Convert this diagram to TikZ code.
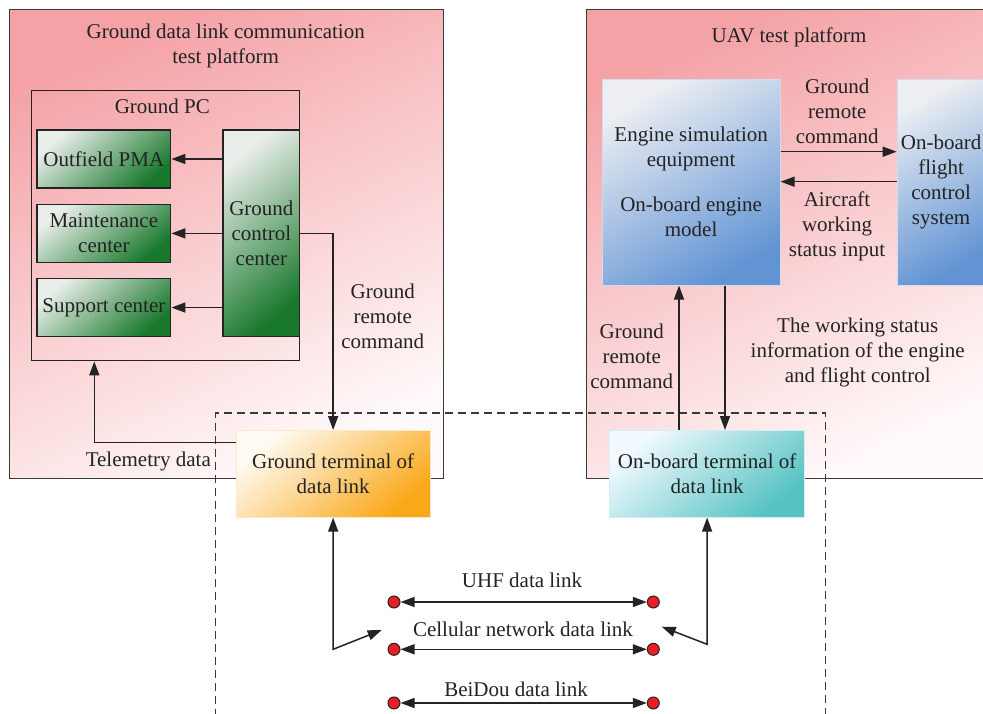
\documentclass[tikz,border=0pt]{standalone}
\usepackage{fontspec}
\setmainfont{Liberation Serif}
\usetikzlibrary{arrows.meta}
\definecolor{pinkT}{RGB}{244,162,166}
\definecolor{pinkB}{RGB}{255,250,250}
\definecolor{greenL}{RGB}{234,238,234}
\definecolor{greenD}{RGB}{24,120,44}
\definecolor{blueL}{RGB}{236,238,242}
\definecolor{blueD}{RGB}{98,148,212}
\definecolor{orangeL}{RGB}{255,251,244}
\definecolor{orangeD}{RGB}{250,168,26}
\definecolor{tealL}{RGB}{242,250,255}
\definecolor{tealD}{RGB}{86,194,194}
\definecolor{lineC}{RGB}{35,35,35}
\definecolor{dotR}{RGB}{232,30,36}
\begin{document}
\begin{tikzpicture}[x=1pt,y=-1pt,
  every node/.style={font=\fontsize{21}{25}\selectfont, text=lineC},
  txt/.style={align=center, inner sep=0pt},
  platform/.style={draw=lineC!90, line width=1.4pt, top color=pinkT, bottom color=pinkB, shading angle=25, inner sep=0pt, anchor=north west},
  plainbox/.style={draw=lineC, line width=1.4pt, inner sep=0pt, anchor=north west},
  gbox/.style={draw=lineC, line width=1.4pt, top color=greenL, bottom color=greenD, shading angle=40, align=center, inner sep=0pt, anchor=north west},
  bbox/.style={draw=blueL!80!blueD, line width=0.6pt, top color=blueL, bottom color=blueD, shading angle=30, align=center, inner sep=0pt, anchor=north west},
  obox/.style={draw=orangeL!80!orangeD, line width=0.6pt, top color=orangeL, bottom color=orangeD, shading angle=40, align=center, inner sep=0pt, anchor=north west},
  tbox/.style={draw=tealL!80!tealD, line width=0.6pt, top color=tealL, bottom color=tealD, shading angle=40, align=center, inner sep=0pt, anchor=north west},
  dbox/.style={draw=lineC!90, line width=1.3pt, dash pattern=on 8pt off 5pt, inner sep=0pt, anchor=north west},
  dot/.style={circle, draw=lineC, fill=dotR, minimum size=12pt, inner sep=0pt, line width=1pt},
  arr/.style={draw=lineC, line width=1.5pt, -{Triangle[length=14pt,width=10pt]}},
  dbl/.style={draw=lineC, line width=1.5pt, {Triangle[length=14pt,width=10pt]}-{Triangle[length=14pt,width=10pt]}}
]
\useasboundingbox (0,0) rectangle (983,714);
\clip (0,0) rectangle (983,714);
\fill[white] (0,0) rectangle (983,714);

% left platform
\node[platform, minimum width=434pt, minimum height=469pt] (lp) at (8.7,9) {};
\node[txt] (lpt) at (225.7,45.8) {Ground data link communication\\test platform};
\node[plainbox, minimum width=268.3pt, minimum height=270pt] (gpc) at (30.7,90) {};
\node[txt] (gpct) at (162.3,106) {Ground PC};
\node[gbox, minimum width=133.7pt, minimum height=58pt] (pma) at (36.3,129.3) {Outfield PMA};
\node[gbox, minimum width=133.7pt, minimum height=58pt] (mnt) at (36.3,203.7) {Maintenance\\center};
\node[gbox, minimum width=133.7pt, minimum height=58.3pt] (sup) at (36.3,277.7) {Support center};
\node[gbox, minimum width=76.7pt, minimum height=206.7pt] (gcc) at (222.3,129.3) {Ground\\control\\center};

% right platform
\node[platform, minimum width=420pt, minimum height=469pt] (uavp) at (585.7,9) {};
\node[txt] (uavt) at (789,37.3) {UAV test platform};
\node[bbox, minimum width=178.3pt, minimum height=206pt] (es) at (601.7,79) {Engine simulation\\equipment\\[20pt]On-board engine\\model};
\node[bbox, minimum width=88.3pt, minimum height=206pt] (fc) at (896.7,79) {On-board\\flight\\control\\system};

% labels
\node[txt] (l1) at (837.3,111.7) {Ground\\remote\\command};
\node[txt] (l2) at (837,226) {Aircraft\\working\\status input};
\node[txt] (l3) at (857.7,352.7) {The working status\\information of the engine\\and flight control};
\node[txt] (l4) at (631.7,356.3) {Ground\\remote\\command};
\node[txt] (l5) at (382.7,316.3) {Ground\\remote\\command};
\node[txt] (l6) at (148.3,461.7) {Telemetry data};

% dashed region
\node[dbox, minimum width=610pt, minimum height=330pt] (db) at (215,412.3) {};

% terminals
\node[obox, minimum width=194.3pt, minimum height=87pt] (gt) at (235.7,430) {Ground terminal of\\data link};
\node[tbox, minimum width=195pt, minimum height=87pt] (ob) at (609.3,430) {On-board terminal of\\data link};

% link dots
\node[dot] (u1) at (394,602) {};
\node[dot] (u2) at (653.3,602) {};
\node[dot] (c1) at (394,649.3) {};
\node[dot] (c2) at (653.3,649.3) {};
\node[dot] (b1) at (394,703) {};
\node[dot] (b2) at (653.3,703) {};
\node[txt] (ul) at (522,580) {UHF data link};
\node[txt] (cl) at (523,629.3) {Cellular network data link};
\node[txt] (bl) at (516,689.3) {BeiDou data link};

% connectors left
\draw[arr] (gcc.west |- pma.east) -- (pma.east);
\draw[arr] (gcc.west |- mnt.east) -- (mnt.east);
\draw[arr] (gcc.west |- sup.east) -- (sup.east);
\draw[arr] (gcc.east) -| (gt.north);
\coordinate (tm) at (94.3,442.7);
\draw[arr] (gt.west |- tm) -- (tm) -- (tm |- gpc.south);

% connectors right
\coordinate (h1) at (0,151.7);
\coordinate (h2) at (0,181.7);
\draw[arr] (es.east |- h1) -- (fc.west |- h1);
\draw[arr] (fc.west |- h2) -- (es.east |- h2);
\coordinate (v1) at (679,0);
\coordinate (v2) at (725,0);
\draw[arr] (ob.north -| v1) -- (es.south -| v1);
\draw[arr] (es.south -| v2) -- (ob.north -| v2);

% bottom links
\coordinate (gb) at (gt.south |- 0,649.3);
\coordinate (gtip) at (381.7,630);
\draw[dbl] (gt.south) -- (gb) -- (gtip);
\coordinate (obb) at (ob.south |- 0,644.3);
\coordinate (otip) at (661.7,626.7);
\draw[dbl] (ob.south) -- (obb) -- (otip);
\draw[dbl] (u1) -- (u2);
\draw[dbl] (c1) -- (c2);
\draw[dbl] (b1) -- (b2);
\end{tikzpicture}
\end{document}
